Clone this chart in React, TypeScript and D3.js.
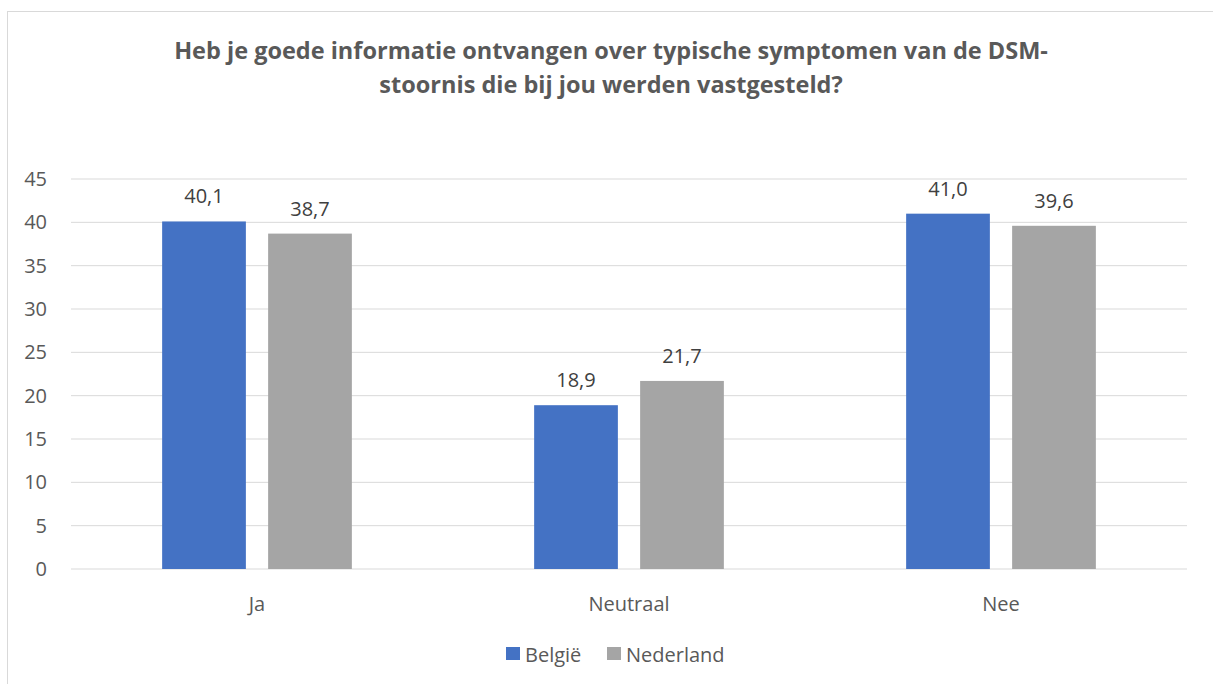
import React from "react";
import * as d3 from "d3";

const categories = ["Ja", "Neutraal", "Nee"];
const seriesNames = ["België", "Nederland"];
const belgie = [40.1, 18.9, 41.0];
const nederland = [38.7, 21.7, 39.6];
const yTicks = [0, 5, 10, 15, 20, 25, 30, 35, 40, 45];
const titleLines = [
  "Heb je goede informatie ontvangen over typische symptomen van de DSM-",
  "stoornis die bij jou werden vastgesteld?",
];
const colors = ["#4472C4", "#A5A5A5"];

export default function App() {
  const W = 1213, H = 684;
  const left = 71, right = 1187, top = 179, bottom = 569;
  const font = "'Open Sans', sans-serif";
  const y = d3.scaleLinear().domain([0, 45]).range([bottom, top]);
  const x0 = d3.scaleBand().domain(categories).range([left, right]).paddingInner(0).paddingOuter(0);
  const groupPad = 0.245;
  const x1 = d3.scaleBand().domain(seriesNames).range([x0.bandwidth() * groupPad, x0.bandwidth() * (1 - groupPad)]).paddingInner(0.21);
  const series = [belgie, nederland];
  return (
    <svg width={W} height={H} style={{ position: "absolute", left: 0, top: 0 }}>
      <rect x={0} y={0} width={W} height={H} fill="#fff" />
      <rect x={7.5} y={11.5} width={W + 10} height={H + 10} fill="none" stroke="#d9d9d9" strokeWidth={1} />
      {titleLines.map((t, i) => (
        <text key={i} x={611} y={59 + i * 34} textAnchor="middle" fontFamily={font} fontWeight="bold" fontSize={23.5} fill="#595959">{t}</text>
      ))}
      {yTicks.map((t) => (
        <g key={t}>
          <line x1={left} x2={right} y1={y(t)} y2={y(t)} stroke="#d9d9d9" strokeWidth={1} />
          <text x={47} y={y(t)} dy="0.35em" textAnchor="end" fontFamily={font} fontSize={20} fill="#595959">{t}</text>
        </g>
      ))}
      {categories.map((c, ci) => (
        <g key={c} transform={`translate(${x0(c)},0)`}>
          {seriesNames.map((s, si) => {
            const v = series[si][ci];
            const bx = x1(s)!;
            return (
              <g key={s}>
                <rect x={bx} y={y(v)} width={x1.bandwidth()} height={bottom - y(v)} fill={colors[si]} />
                <text x={bx + x1.bandwidth() / 2} y={y(v) - 18} textAnchor="middle" fontFamily={font} fontSize={20} fill="#404040">{v.toFixed(1).replace(".", ",")}</text>
              </g>
            );
          })}
          <text x={x0.bandwidth() / 2} y={611} textAnchor="middle" fontFamily={font} fontSize={20} fill="#595959">{c}</text>
        </g>
      ))}
      {seriesNames.map((s, i) => {
        const lx = [506, 607][i];
        return (
          <g key={s}>
            <rect x={lx} y={647} width={14} height={13} fill={colors[i]} />
            <text x={lx + 19} y={662} fontFamily={font} fontSize={20} fill="#595959">{s}</text>
          </g>
        );
      })}
    </svg>
  );
}
